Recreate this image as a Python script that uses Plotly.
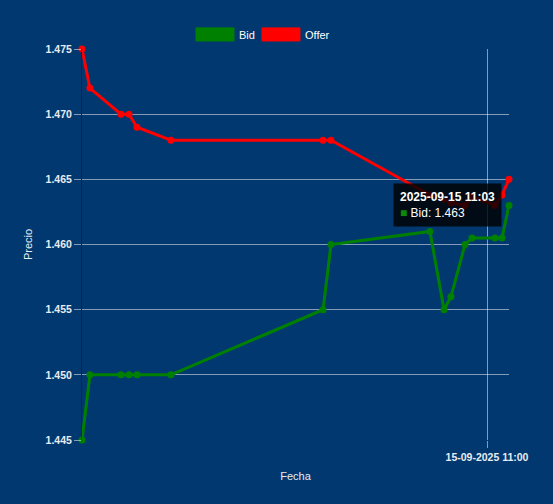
import plotly.graph_objects as go

# quotes
fechas = [
    "2025-09-15 10:04:45", "2025-09-15 10:05:50", "2025-09-15 10:10:04",
    "2025-09-15 10:11:10", "2025-09-15 10:12:15", "2025-09-15 10:16:53",
    "2025-09-15 10:37:38", "2025-09-15 10:38:43", "2025-09-15 10:52:13",
    "2025-09-15 10:54:08", "2025-09-15 10:55:05", "2025-09-15 10:57:00",
    "2025-09-15 10:57:57", "2025-09-15 11:01:05", "2025-09-15 11:02:03",
    "2025-09-15 11:03:00",
]
bid = [1.445, 1.450, 1.450, 1.450, 1.450, 1.450, 1.455, 1.460,
       1.461, 1.455, 1.456, 1.460, 1.4605, 1.4605, 1.4605, 1.463]
offer = [1.475, 1.472, 1.470, 1.470, 1.469, 1.468, 1.468, 1.468,
         1.4638, 1.4635, 1.4632, 1.4630, 1.4637, 1.4630, 1.4638, 1.465]

x_tick_vals = ["2025-09-15 11:00:00"]
x_tick_text = ["15-09-2025 11:00"]
y_tick_vals = [1.445, 1.450, 1.455, 1.460, 1.465, 1.470, 1.475]

BG = "#00386f"
GRID = "rgba(255,255,255,0.5)"
TXT = "#e8ecf2"
FONT = "Liberation Sans, Arial, sans-serif"

fig = go.Figure()
for name, vals, color in [("Bid", bid, "green"), ("Offer", offer, "red")]:
    fig.add_trace(
        go.Scatter(
            x=fechas,
            y=vals,
            name=name,
            mode="lines+markers",
            line=dict(color=color, width=3),
            marker=dict(color=color, size=7),
            cliponaxis=False,
            showlegend=False,
        )
    )

# Chart.js style legend: wide filled boxes
legend_items = [("Bid", "green", 0.267), ("Offer", "red", 0.4215)]
for name, color, x0 in legend_items:
    fig.add_shape(type="rect", xref="paper", yref="paper",
                  x0=x0, x1=x0 + 0.089, y0=1.0205, y1=1.054,
                  fillcolor=color, line=dict(color=color, width=1))
    fig.add_annotation(xref="paper", yref="paper", x=x0 + 0.095, y=1.037,
                       text=name, showarrow=False, xanchor="left",
                       yanchor="middle",
                       font=dict(family=FONT, size=11, color="white"))

# tooltip on last bid point
fig.add_annotation(
    x=fechas[-1], y=bid[-1],
    text=("<b>2025-09-15 11:03</b><br>"
          "<span style='color:#0a8a0a'>■</span> Bid: %.3f" % bid[-1]),
    showarrow=False, xanchor="right", yanchor="middle", xshift=-7,
    align="left", bgcolor="rgba(0,0,0,0.8)", borderpad=6,
    font=dict(family=FONT, size=12, color="white"),
)

fig.update_layout(
    width=553,
    height=504,
    margin=dict(l=82, r=44, t=49, b=64),
    paper_bgcolor=BG,
    plot_bgcolor=BG,
    font=dict(family=FONT, size=11, color=TXT),
    hovermode=False,
    xaxis=dict(
        type="date",
        range=[fechas[0], fechas[-1]],
        tickmode="array",
        tickvals=x_tick_vals,
        ticktext=x_tick_text,
        showgrid=True,
        gridcolor=GRID,
        gridwidth=1,
        ticks="outside",
        ticklen=7,
        tickcolor=GRID,
        zeroline=False,
        showline=False,
        tickfont=dict(family=FONT, size=10.5, color=TXT, weight="bold"),
        title=dict(text="Fecha", font=dict(family=FONT, size=11, color=TXT),
                   standoff=10),
    ),
    yaxis=dict(
        range=[1.445, 1.475],
        tickmode="array",
        tickvals=y_tick_vals,
        tickformat=".3f",
        showgrid=True,
        gridcolor=GRID,
        gridwidth=1,
        ticks="outside",
        ticklen=7,
        tickcolor=GRID,
        zeroline=False,
        showline=True,
        linecolor="rgba(0,0,0,0.25)",
        tickfont=dict(family=FONT, size=10.5, color=TXT, weight="bold"),
        title=dict(text="Precio", font=dict(family=FONT, size=11, color=TXT),
                   standoff=10),
    ),
)

fig.write_html("out.html", config={"displayModeBar": False},
               post_script="document.body.style.margin='0';")
